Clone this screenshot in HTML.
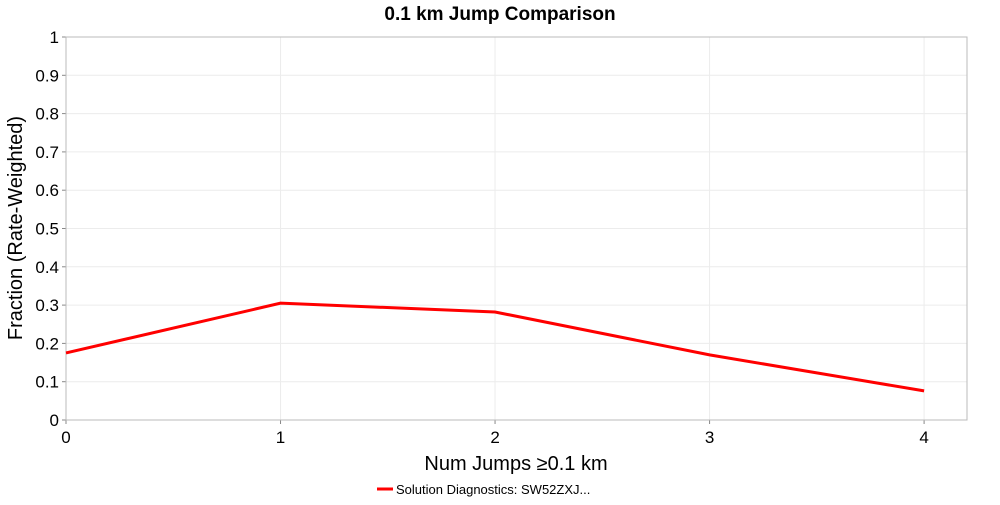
<!DOCTYPE html>
<html><head><meta charset="utf-8"><style>
body{margin:0;background:#fff;font-family:"Liberation Sans","DejaVu Sans",sans-serif}
</style></head><body>
<svg id="c" width="1000" height="500" xmlns="http://www.w3.org/2000/svg"></svg>
<script>
const categories=[0,1,2,3,4];
const seriesValues=[0.175,0.305,0.282,0.170,0.076];
const yTicks=[0,0.1,0.2,0.3,0.4,0.5,0.6,0.7,0.8,0.9,1];
const yTickLabels=["0","0.1","0.2","0.3","0.4","0.5","0.6","0.7","0.8","0.9","1"];
const xTicks=[0,1,2,3,4];
const L=66,R=967,T=37,B=420,XMAX=4.2;
const sx=v=>L+v/XMAX*(R-L), sy=v=>B-v*(B-T);
const svg=document.getElementById('c');const NS='http://www.w3.org/2000/svg';
function mk(t,a,p){const e=document.createElementNS(NS,t);for(const k in a)e.setAttribute(k,a[k]);(p||svg).appendChild(e);return e;}
const bg=mk('rect',{x:L,y:T,width:R-L,height:B-T,fill:'#fff',stroke:'#bbb'});


yTicks.forEach((v,i)=>{
 const g=mk('line',{x1:L,x2:R,y1:sy(v),y2:sy(v),stroke:'#ececec'});
 
 
 mk('line',{x1:L-4,x2:L,y1:sy(v),y2:sy(v),stroke:'#888'});
 const t=mk('text',{x:L-7,y:sy(v)+6,'text-anchor':'end','font-size':17,fill:'#000'});t.textContent=yTickLabels[i];
 
 
});
xTicks.forEach(v=>{
 const g=mk('line',{x1:sx(v),x2:sx(v),y1:T,y2:B,stroke:'#ececec'});
 
 
 mk('line',{x1:sx(v),x2:sx(v),y1:B,y2:B+4,stroke:'#888'});
 const t=mk('text',{x:sx(v),y:B+23,'text-anchor':'middle','font-size':17,fill:'#000'});t.textContent=v;
 
 
});
mk('rect',{x:L,y:T,width:R-L,height:B-T,fill:'none',stroke:'#bbb'});
const pl=mk('polyline',{points:categories.map((c,i)=>sx(c)+','+sy(seriesValues[i])).join(' '),fill:'none',stroke:'#f00','stroke-width':3});


const ti=mk('text',{x:500,y:20,'text-anchor':'middle','font-size':19,'font-weight':'bold'});ti.textContent='0.1 km Jump Comparison';


const xt=mk('text',{x:516,y:470,'text-anchor':'middle','font-size':20});xt.textContent='Num Jumps ≥0.1 km';


const yt=mk('text',{x:22,y:228,'text-anchor':'middle','font-size':20,transform:'rotate(-90 22 228)'});yt.textContent='Fraction (Rate-Weighted)';


const lg=mk('g',{});


mk('line',{x1:377,x2:393,y1:489,y2:489,stroke:'#f00','stroke-width':3},lg);
const lt=mk('text',{x:396,y:494,'font-size':13},lg);lt.textContent='Solution Diagnostics: SW52ZXJ...';
</script>
</body></html>
